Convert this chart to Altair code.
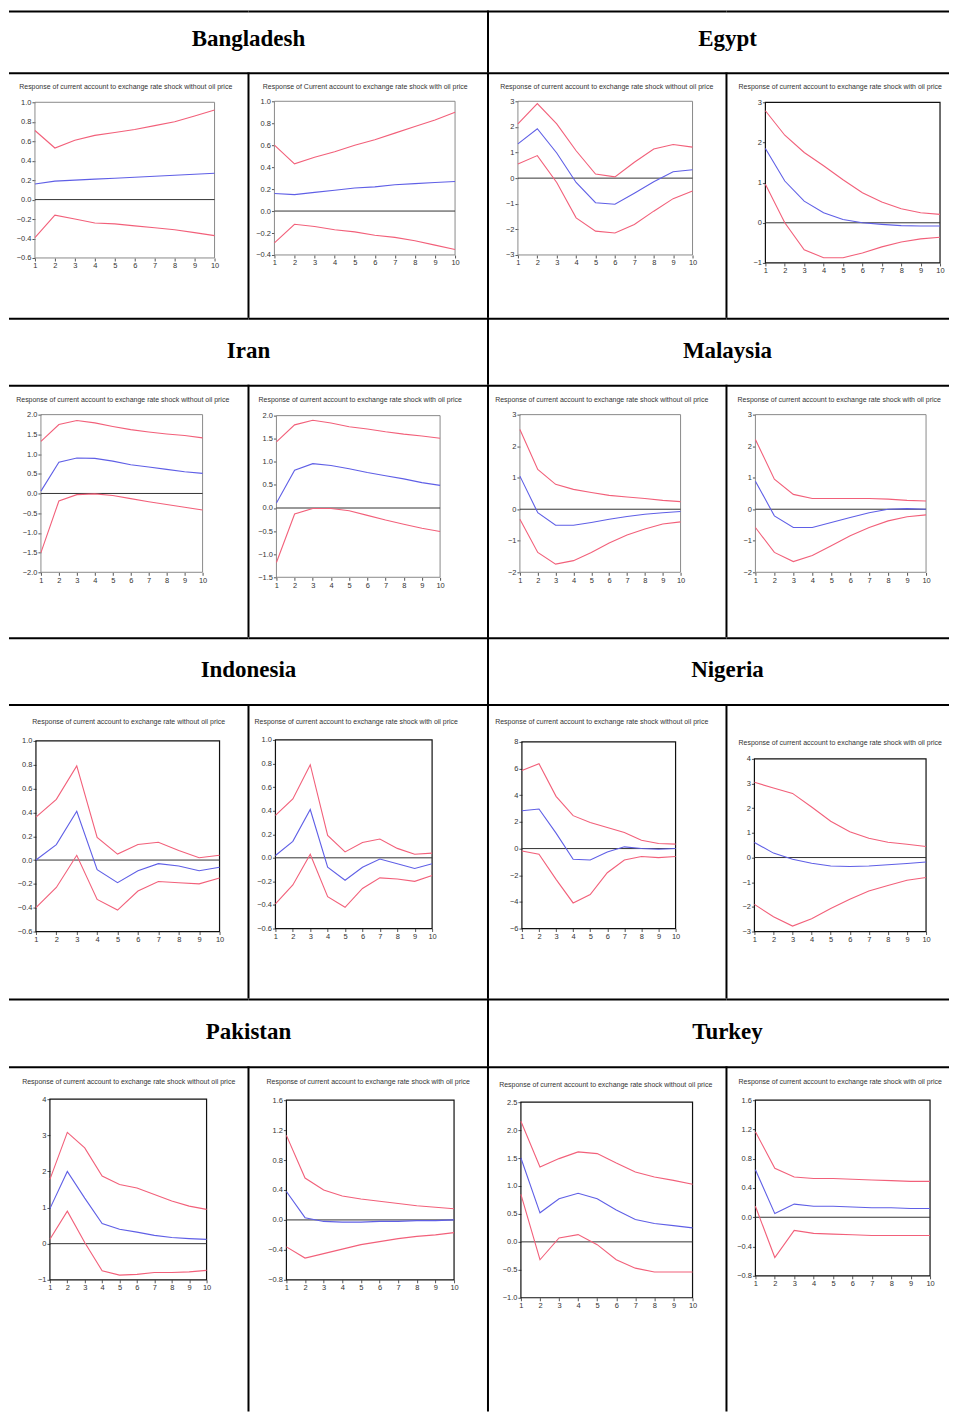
import altair as alt
import pandas as pd

STEPS = [1, 2, 3, 4, 5, 6, 7, 8, 9, 10]

# ---------------- data ----------------
bangladesh_without_upper = [0.71, 0.53, 0.61, 0.66, 0.69, 0.72, 0.76, 0.80, 0.86, 0.92]
bangladesh_without_center = [0.16, 0.19, 0.20, 0.21, 0.22, 0.23, 0.24, 0.25, 0.26, 0.27]
bangladesh_without_lower = [-0.39, -0.16, -0.20, -0.24, -0.25, -0.27, -0.29, -0.31, -0.34, -0.37]
bangladesh_with_upper = [0.60, 0.43, 0.49, 0.54, 0.60, 0.65, 0.71, 0.77, 0.83, 0.90]
bangladesh_with_center = [0.16, 0.15, 0.17, 0.19, 0.21, 0.22, 0.24, 0.25, 0.26, 0.27]
bangladesh_with_lower = [-0.29, -0.12, -0.14, -0.17, -0.19, -0.22, -0.24, -0.27, -0.31, -0.35]

egypt_without_upper = [2.12, 2.91, 2.12, 1.07, 0.16, 0.05, 0.62, 1.14, 1.31, 1.21]
egypt_without_center = [1.34, 1.93, 0.98, -0.17, -0.96, -1.02, -0.59, -0.14, 0.25, 0.33]
egypt_without_lower = [0.55, 0.88, -0.17, -1.55, -2.07, -2.14, -1.81, -1.29, -0.80, -0.50]
egypt_with_upper = [2.79, 2.18, 1.75, 1.42, 1.07, 0.75, 0.52, 0.35, 0.25, 0.21]
egypt_with_center = [1.85, 1.04, 0.54, 0.25, 0.08, 0.00, -0.04, -0.07, -0.08, -0.08]
egypt_with_lower = [0.96, 0.00, -0.67, -0.87, -0.87, -0.75, -0.60, -0.48, -0.40, -0.36]

iran_without_upper = [1.32, 1.75, 1.85, 1.79, 1.70, 1.62, 1.56, 1.51, 1.47, 1.41]
iran_without_center = [0.06, 0.79, 0.90, 0.89, 0.82, 0.73, 0.67, 0.61, 0.55, 0.51]
iran_without_lower = [-1.50, -0.19, -0.03, -0.01, -0.05, -0.13, -0.21, -0.28, -0.35, -0.42]
iran_with_upper = [1.43, 1.80, 1.90, 1.84, 1.76, 1.71, 1.65, 1.60, 1.56, 1.51]
iran_with_center = [0.11, 0.82, 0.96, 0.92, 0.85, 0.77, 0.70, 0.63, 0.55, 0.49]
iran_with_lower = [-1.18, -0.13, -0.01, -0.01, -0.06, -0.16, -0.26, -0.35, -0.44, -0.51]

malaysia_without_upper = [2.53, 1.26, 0.79, 0.63, 0.53, 0.44, 0.39, 0.34, 0.28, 0.24]
malaysia_without_center = [1.05, -0.11, -0.51, -0.51, -0.42, -0.32, -0.23, -0.16, -0.11, -0.07]
malaysia_without_lower = [-0.32, -1.37, -1.74, -1.63, -1.37, -1.07, -0.82, -0.63, -0.47, -0.40]
malaysia_with_upper = [2.21, 0.95, 0.47, 0.34, 0.34, 0.34, 0.34, 0.32, 0.28, 0.26]
malaysia_with_center = [0.89, -0.21, -0.58, -0.58, -0.42, -0.26, -0.11, 0.00, 0.02, 0.00]
malaysia_with_lower = [-0.58, -1.37, -1.66, -1.47, -1.16, -0.84, -0.58, -0.37, -0.24, -0.18]

indonesia_without_upper = [0.36, 0.51, 0.79, 0.19, 0.05, 0.13, 0.15, 0.08, 0.02, 0.04]
indonesia_without_center = [0.00, 0.13, 0.41, -0.08, -0.19, -0.09, -0.03, -0.05, -0.09, -0.06]
indonesia_without_lower = [-0.40, -0.23, 0.04, -0.33, -0.42, -0.26, -0.18, -0.19, -0.20, -0.15]
indonesia_with_upper = [0.36, 0.50, 0.79, 0.19, 0.05, 0.13, 0.16, 0.08, 0.03, 0.04]
indonesia_with_center = [0.02, 0.14, 0.41, -0.08, -0.19, -0.08, -0.01, -0.05, -0.09, -0.05]
indonesia_with_lower = [-0.39, -0.23, 0.03, -0.33, -0.42, -0.26, -0.17, -0.18, -0.20, -0.15]

nigeria_without_upper = [5.86, 6.36, 3.92, 2.47, 1.96, 1.58, 1.21, 0.63, 0.38, 0.33]
nigeria_without_center = [2.84, 2.97, 1.16, -0.80, -0.86, -0.25, 0.13, 0.00, -0.05, 0.00]
nigeria_without_lower = [-0.18, -0.43, -2.31, -4.08, -3.45, -1.81, -0.86, -0.60, -0.68, -0.60]
nigeria_with_upper = [3.05, 2.82, 2.60, 2.05, 1.47, 1.05, 0.78, 0.62, 0.54, 0.45]
nigeria_with_center = [0.61, 0.18, -0.07, -0.23, -0.34, -0.36, -0.34, -0.29, -0.24, -0.18]
nigeria_with_lower = [-1.90, -2.40, -2.78, -2.48, -2.07, -1.69, -1.36, -1.13, -0.92, -0.81]

pakistan_without_upper = [1.78, 3.08, 2.65, 1.87, 1.64, 1.54, 1.36, 1.18, 1.04, 0.95]
pakistan_without_center = [0.97, 2.00, 1.26, 0.56, 0.40, 0.32, 0.23, 0.17, 0.14, 0.12]
pakistan_without_lower = [0.12, 0.90, 0.03, -0.75, -0.87, -0.85, -0.80, -0.80, -0.78, -0.74]
pakistan_with_upper = [1.13, 0.56, 0.40, 0.32, 0.28, 0.25, 0.22, 0.19, 0.17, 0.15]
pakistan_with_center = [0.38, 0.03, -0.02, -0.03, -0.03, -0.02, -0.02, -0.01, -0.01, 0.00]
pakistan_with_lower = [-0.36, -0.51, -0.45, -0.39, -0.33, -0.29, -0.25, -0.22, -0.20, -0.17]

turkey_without_upper = [2.16, 1.34, 1.49, 1.61, 1.58, 1.41, 1.25, 1.16, 1.10, 1.03]
turkey_without_center = [1.50, 0.52, 0.77, 0.87, 0.77, 0.57, 0.40, 0.33, 0.29, 0.25]
turkey_without_lower = [0.85, -0.32, 0.07, 0.13, -0.05, -0.32, -0.47, -0.54, -0.54, -0.54]
turkey_with_upper = [1.17, 0.67, 0.55, 0.53, 0.53, 0.52, 0.51, 0.50, 0.49, 0.49]
turkey_with_center = [0.65, 0.05, 0.18, 0.15, 0.15, 0.14, 0.13, 0.13, 0.12, 0.12]
turkey_with_lower = [0.15, -0.55, -0.18, -0.22, -0.23, -0.24, -0.25, -0.25, -0.25, -0.25]

# y-axis tick labels of each panel
ticks_bd_l = [-0.6, -0.4, -0.2, 0.0, 0.2, 0.4, 0.6, 0.8, 1.0]
ticks_bd_r = [-0.4, -0.2, 0.0, 0.2, 0.4, 0.6, 0.8, 1.0]
ticks_eg_l = [-3, -2, -1, 0, 1, 2, 3]
ticks_eg_r = [-1, 0, 1, 2, 3]
ticks_ir_l = [-2.0, -1.5, -1.0, -0.5, 0.0, 0.5, 1.0, 1.5, 2.0]
ticks_ir_r = [-1.5, -1.0, -0.5, 0.0, 0.5, 1.0, 1.5, 2.0]
ticks_my = [-2, -1, 0, 1, 2, 3]
ticks_id = [-0.6, -0.4, -0.2, 0.0, 0.2, 0.4, 0.6, 0.8, 1.0]
ticks_ng_l = [-6, -4, -2, 0, 2, 4, 6, 8]
ticks_ng_r = [-3, -2, -1, 0, 1, 2, 3, 4]
ticks_pk_l = [-1, 0, 1, 2, 3, 4]
ticks_pk_r = [-0.8, -0.4, 0.0, 0.4, 0.8, 1.2, 1.6]
ticks_tr_l = [-1.0, -0.5, 0.0, 0.5, 1.0, 1.5, 2.0, 2.5]
ticks_tr_r = [-0.8, -0.4, 0.0, 0.4, 0.8, 1.2, 1.6]

countries = ["Bangladesh", "Egypt", "Iran", "Malaysia", "Indonesia", "Nigeria", "Pakistan", "Turkey"]

SUB_WO = "Response of current account to exchange rate shock without oil price"
SUB_W = "Response of current account to exchange rate shock with oil price"
SUB_BD_W = "Response of Current account to exchange rate shock with oil price"
SUB_ID_WO = "Response of current account to exchange rate without oil price"

# ---------------- layout / style ----------------
RED = "#f2607a"
BLUE = "#5f5fe6"
GRAY_FRAME = "#8a8a8a"
BLACK_FRAME = "#111111"
SMALL_FONT = "Liberation Sans, Arial, sans-serif"

COL_W = [240, 240, 239, 223]
HEAD_H = [62, 67, 67, 68]
CHART_H = [246, 253, 295, 346]
HEAD_TY = [29, 33, 33, 34]

# each panel: data, subtitle, ticks, format, layout (cell-relative pixels), frame colour
panels = [
    [
        dict(u=bangladesh_without_upper, c=bangladesh_without_center, l=bangladesh_without_lower, sub=SUB_WO,
             ticks=ticks_bd_l, fmt=".1f", x0=26, x1=206, yt=30, yb=186, sx=117, sy=15, fc=GRAY_FRAME),
        dict(u=bangladesh_with_upper, c=bangladesh_with_center, l=bangladesh_with_lower, sub=SUB_BD_W,
             ticks=ticks_bd_r, fmt=".1f", x0=26, x1=207, yt=29, yb=183, sx=117, sy=15, fc=GRAY_FRAME),
        dict(u=egypt_without_upper, c=egypt_without_center, l=egypt_without_lower, sub=SUB_WO,
             ticks=ticks_eg_l, fmt="d", x0=30, x1=205, yt=29, yb=183, sx=119, sy=15, fc=GRAY_FRAME),
        dict(u=egypt_with_upper, c=egypt_with_center, l=egypt_with_lower, sub=SUB_W,
             ticks=ticks_eg_r, fmt="d", x0=39, x1=214, yt=30, yb=191, sx=114, sy=15, fc=BLACK_FRAME),
    ],
    [
        dict(u=iran_without_upper, c=iran_without_center, l=iran_without_lower, sub=SUB_WO,
             ticks=ticks_ir_l, fmt=".1f", x0=32, x1=194, yt=30, yb=188, sx=114, sy=15, fc=GRAY_FRAME),
        dict(u=iran_with_upper, c=iran_with_center, l=iran_with_lower, sub=SUB_W,
             ticks=ticks_ir_r, fmt=".1f", x0=28, x1=192, yt=31, yb=193, sx=112, sy=15, fc=GRAY_FRAME),
        dict(u=malaysia_without_upper, c=malaysia_without_center, l=malaysia_without_lower, sub=SUB_WO,
             ticks=ticks_my, fmt="d", x0=32, x1=193, yt=30, yb=188, sx=114, sy=15, fc=GRAY_FRAME),
        dict(u=malaysia_with_upper, c=malaysia_with_center, l=malaysia_with_lower, sub=SUB_W,
             ticks=ticks_my, fmt="d", x0=29, x1=200, yt=30, yb=188, sx=113, sy=15, fc=GRAY_FRAME),
    ],
    [
        dict(u=indonesia_without_upper, c=indonesia_without_center, l=indonesia_without_lower, sub=SUB_ID_WO,
             ticks=ticks_id, fmt=".1f", x0=27, x1=211, yt=37, yb=228, sx=120, sy=18, fc=BLACK_FRAME),
        dict(u=indonesia_with_upper, c=indonesia_with_center, l=indonesia_with_lower, sub=SUB_W,
             ticks=ticks_id, fmt=".1f", x0=27, x1=184, yt=36, yb=225, sx=108, sy=18, fc=BLACK_FRAME),
        dict(u=nigeria_without_upper, c=nigeria_without_center, l=nigeria_without_lower, sub=SUB_WO,
             ticks=ticks_ng_l, fmt="d", x0=34, x1=188, yt=38, yb=225, sx=114, sy=18, fc=BLACK_FRAME),
        dict(u=nigeria_with_upper, c=nigeria_with_center, l=nigeria_with_lower, sub=SUB_W,
             ticks=ticks_ng_r, fmt="d", x0=28, x1=200, yt=55, yb=228, sx=114, sy=39, fc=BLACK_FRAME),
    ],
    [
        dict(u=pakistan_without_upper, c=pakistan_without_center, l=pakistan_without_lower, sub=SUB_WO,
             ticks=ticks_pk_l, fmt="d", x0=41, x1=198, yt=33, yb=214, sx=120, sy=16, fc=BLACK_FRAME),
        dict(u=pakistan_with_upper, c=pakistan_with_center, l=pakistan_with_lower, sub=SUB_W,
             ticks=ticks_pk_r, fmt=".1f", x0=38, x1=206, yt=34, yb=214, sx=120, sy=16, fc=BLACK_FRAME),
        dict(u=turkey_without_upper, c=turkey_without_center, l=turkey_without_lower, sub=SUB_WO,
             ticks=ticks_tr_l, fmt=".1f", x0=33, x1=205, yt=36, yb=232, sx=118, sy=19, fc=BLACK_FRAME),
        dict(u=turkey_with_upper, c=turkey_with_center, l=turkey_with_lower, sub=SUB_W,
             ticks=ticks_tr_r, fmt=".1f", x0=29, x1=204, yt=34, yb=210, sx=114, sy=16, fc=BLACK_FRAME),
    ],
]

AXIS_STYLE = dict(labelFont=SMALL_FONT, labelFontSize=7.5, labelColor="#333333", tickColor="#555555",
                  tickSize=3, domain=False, grid=False, labelPadding=1, labelOverlap=False,
                  labelFlush=False)

DUMMY = pd.DataFrame({"a": [0]})


def borders(left, w, h):
    out = [alt.Chart(DUMMY).mark_rule(color="black", strokeWidth=2).encode(
        x=alt.value(0), x2=alt.value(w), y=alt.value(1))]
    if left:
        out.append(alt.Chart(DUMMY).mark_rule(color="black", strokeWidth=2).encode(
            x=alt.value(0), y=alt.value(0), y2=alt.value(h)))
    return out


def header_cell(name, left, w, h, ty):
    layers = []
    if name:
        layers.append(alt.Chart(pd.DataFrame({"t": [name]})).mark_text(
            font="Liberation Serif", fontSize=23, fontWeight="bold", color="black",
            align="center", baseline="middle").encode(x=alt.value(240), y=alt.value(ty), text="t:N"))
    layers += borders(left, w, h)
    return alt.layer(*layers).properties(width=w, height=h)


def panel_cell(p, left, w, h):
    ymin, ymax = p["ticks"][0], p["ticks"][-1]
    xs = alt.Scale(domain=[1, 10], range=[p["x0"], p["x1"]], nice=False, zero=False)
    ys = alt.Scale(domain=[ymin, ymax], range=[p["yb"], p["yt"]], nice=False, zero=False)
    xa = alt.Axis(orient="bottom", offset=p["yb"] - h, values=STEPS, format="d", **AXIS_STYLE)
    ya = alt.Axis(orient="left", offset=-p["x0"], values=p["ticks"], format=p["fmt"], **AXIS_STYLE)

    frame = alt.Chart(pd.DataFrame({"x": [1], "x2": [10], "y": [ymin], "y2": [ymax]})).mark_rect(
        fillOpacity=0, stroke=p["fc"], strokeWidth=1.2 if p["fc"] == BLACK_FRAME else 1).encode(
        x=alt.X("x:Q", scale=xs, axis=xa, title=None), x2="x2:Q",
        y=alt.Y("y:Q", scale=ys, axis=ya, title=None), y2="y2:Q")

    zero = alt.Chart(pd.DataFrame({"x": [1], "x2": [10], "y": [0]})).mark_rule(
        color="#333333", strokeWidth=1).encode(
        x=alt.X("x:Q", scale=xs, axis=xa, title=None), x2="x2:Q",
        y=alt.Y("y:Q", scale=ys, axis=ya, title=None))

    df = pd.DataFrame({
        "step": STEPS * 3,
        "value": p["u"] + p["c"] + p["l"],
        "series": ["upper"] * 10 + ["center"] * 10 + ["lower"] * 10,
    })
    lines = alt.Chart(df).mark_line(strokeWidth=1.1).encode(
        x=alt.X("step:Q", scale=xs, axis=xa, title=None),
        y=alt.Y("value:Q", scale=ys, axis=ya, title=None),
        color=alt.Color("series:N", scale=alt.Scale(domain=["upper", "center", "lower"],
                                                    range=[RED, BLUE, RED]), legend=None),
        detail="series:N",
    )

    sub = alt.Chart(pd.DataFrame({"t": [p["sub"]]})).mark_text(
        font=SMALL_FONT, fontSize=7, color="#333333", align="center", baseline="middle").encode(
        x=alt.value(p["sx"]), y=alt.value(p["sy"]), text="t:N")

    return alt.layer(frame, zero, lines, sub, *borders(left, w, h)).properties(width=w, height=h)


cells = []
for r in range(4):
    # header row: country name in columns 0 and 2, vertical line only in the middle
    cells.append(header_cell(countries[2 * r], False, COL_W[0], HEAD_H[r], HEAD_TY[r]))
    cells.append(header_cell("", False, COL_W[1], HEAD_H[r], HEAD_TY[r]))
    cells.append(header_cell(countries[2 * r + 1], True, COL_W[2], HEAD_H[r], HEAD_TY[r]))
    cells.append(header_cell("", False, COL_W[3], HEAD_H[r], HEAD_TY[r]))
    for k in range(4):
        cells.append(panel_cell(panels[r][k], k > 0, COL_W[k], CHART_H[r]))

chart = alt.concat(*cells, columns=4, spacing=0, bounds="flush").resolve_scale(
    x="independent", y="independent").properties(padding=0).configure_view(stroke=None)

chart.save("out.html", embed_options={"renderer": "svg", "actions": False})
